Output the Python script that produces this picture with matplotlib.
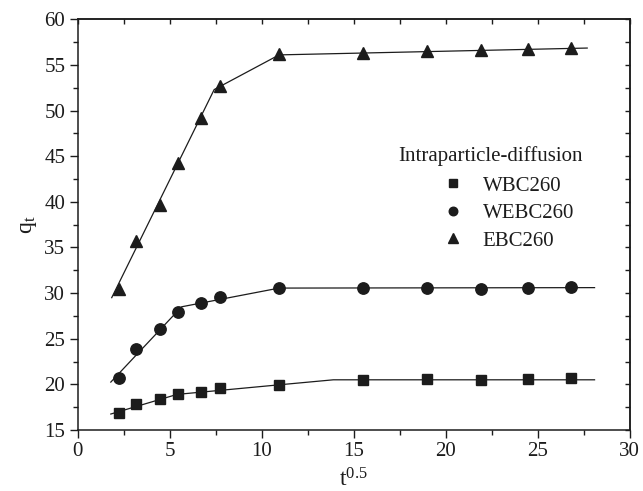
import numpy as np
import matplotlib
matplotlib.use("Agg")
import matplotlib.pyplot as plt
from matplotlib.ticker import MultipleLocator

plt.rcParams['font.family'] = ['Liberation Serif', 'DejaVu Serif']
plt.rcParams['mathtext.fontset'] = 'custom'
plt.rcParams['mathtext.rm'] = 'Liberation Serif'

# square root of contact time
t_sqrt = [2.24, 3.16, 4.47, 5.48, 6.71, 7.75, 10.95, 15.49, 18.97, 21.91, 24.49, 26.83]

# adsorbed amounts q_t
q_wbc = [16.85, 17.85, 18.4, 18.93, 19.15, 19.55, 19.95, 20.5, 20.55, 20.5, 20.55, 20.65]
q_webc = [20.7, 23.9, 26.05, 27.9, 28.9, 29.6, 30.55, 30.55, 30.6, 30.5, 30.6, 30.7]
q_ebc = [30.5, 35.7, 39.6, 44.3, 49.2, 52.65, 56.15, 56.35, 56.55, 56.65, 56.75, 56.9]

# multi-linear intraparticle-diffusion fits (breakpoints)
fit_wbc_x = [1.8, 5.4, 10.95, 13.9, 28.1]
fit_wbc_y = [16.75, 18.9, 19.95, 20.5, 20.5]
fit_webc_x = [1.8, 5.65, 10.95, 28.1]
fit_webc_y = [20.25, 28.5, 30.55, 30.6]
fit_ebc_x = [1.85, 7.42, 10.95, 27.7]
fit_ebc_y = [29.5, 52.3, 56.1, 56.85]

labels = ['WBC260', 'WEBC260', 'EBC260']
legend_title = 'Intraparticle-diffusion'

ink = '#1c1c1c'
W, H = 643, 491

fig = plt.figure(figsize=(W / 100, H / 100), dpi=100)
ax = fig.add_axes([77.7 / W, 1 - 430 / H, (629.5 - 77.7) / W, (430 - 19.3) / H])

for fx, fy in [(fit_wbc_x, fit_wbc_y), (fit_webc_x, fit_webc_y), (fit_ebc_x, fit_ebc_y)]:
    ax.plot(fx, fy, color=ink, lw=0.9, zorder=2)

h1, = ax.plot(t_sqrt, q_wbc, 's', color=ink, ms=7.3, ls='none', zorder=3, label=labels[0])
h2, = ax.plot(t_sqrt, q_webc, 'o', color=ink, ms=8.2, ls='none', zorder=3, label=labels[1])
h3, = ax.plot(t_sqrt, q_ebc, '^', color=ink, ms=8.8, ls='none', zorder=3, label=labels[2])

ax.set_xlim(0, 30)
ax.set_ylim(15, 60)
ax.xaxis.set_major_locator(MultipleLocator(5))
ax.xaxis.set_minor_locator(MultipleLocator(2.5))
ax.yaxis.set_major_locator(MultipleLocator(5))
ax.yaxis.set_minor_locator(MultipleLocator(2.5))

for s in ax.spines.values():
    s.set_linewidth(1.1)
    s.set_color(ink)

ax.tick_params(which='both', direction='out', top=False, right=False,
               colors=ink, labelsize=15, width=1.0, pad=3)
ax.tick_params(which='major', length=6)
ax.tick_params(which='minor', length=3.5)

# inward ticks on top and right edges
axt = ax.secondary_xaxis('top')
axt.xaxis.set_major_locator(MultipleLocator(2.5))
axt.tick_params(direction='in', length=3.5, width=1.0, labeltop=False, colors=ink)
axr = ax.secondary_yaxis('right')
axr.yaxis.set_major_locator(MultipleLocator(2.5))
axr.tick_params(direction='in', length=3.5, width=1.0, labelright=False, colors=ink)
for sec in (axt, axr):
    for s in sec.spines.values():
        s.set_linewidth(1.1)
        s.set_color(ink)

ax.set_xlabel(r'$\mathregular{t^{0.5}}$', fontsize=17, color=ink, labelpad=5)
ax.set_ylabel(r'$\mathregular{q_t}$', fontsize=17, color=ink, labelpad=4)

fig.text(398 / W, 1 - 156 / H, legend_title, fontsize=15, color=ink,
         ha='left', va='center')
leg = fig.legend(handles=[h1, h2, h3], loc='upper left',
                 bbox_to_anchor=(443 / W, 1 - 176 / H), frameon=False,
                 fontsize=15, markerscale=0.75, borderpad=0, borderaxespad=0,
                 handlelength=1.0, handletextpad=0.9, labelspacing=0.38)
for t in leg.get_texts():
    t.set_color(ink)

fig.savefig('out.png', dpi=100)
